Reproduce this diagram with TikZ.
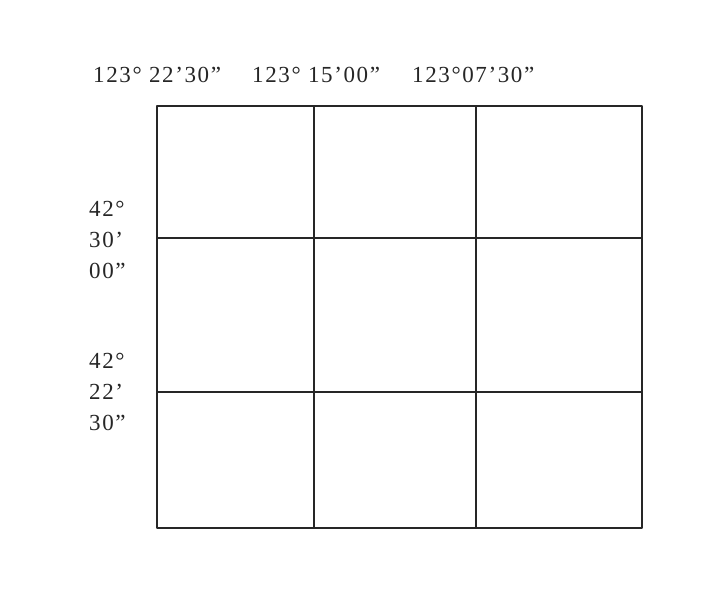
\documentclass[tikz,border=0pt]{standalone}
\usepackage{fontspec}
\setmainfont{Liberation Serif}
\newfontfamily\coordfont[LetterSpace=7]{Liberation Serif}

\begin{document}
\begin{tikzpicture}[x=1pt,y=-1pt,line cap=round,line join=round,every node/.style={inner sep=0pt},
  grid line/.style={line width=1.3pt,black!85},
  coord label/.style={font=\coordfont\fontsize{23}{31}\selectfont,text=black!85,align=left}]
  \useasboundingbox (0,0) rectangle (714,594);
  % cells
  \draw[grid line] (157,106) rectangle (642,528);
  \draw[grid line] (314,106) -- (314,528);
  \draw[grid line] (476,106) -- (476,528);
  \draw[grid line] (157,238) -- (642,238);
  \draw[grid line] (157,392) -- (642,392);
  % longitudes
  \node[coord label,anchor=base west] (lonA) at (93,82) {123° 22’30”};
  \node[coord label,anchor=base west] (lonB) at (252,82) {123° 15’00”};
  \node[coord label,anchor=base west] (lonC) at (412,82) {123°07’30”};
  % latitudes
  \node[coord label,anchor=north west] (latA) at (89,201) {42°\\30’\\00”};
  \node[coord label,anchor=north west] (latB) at (89,353) {42°\\22’\\30”};
\end{tikzpicture}
\end{document}
